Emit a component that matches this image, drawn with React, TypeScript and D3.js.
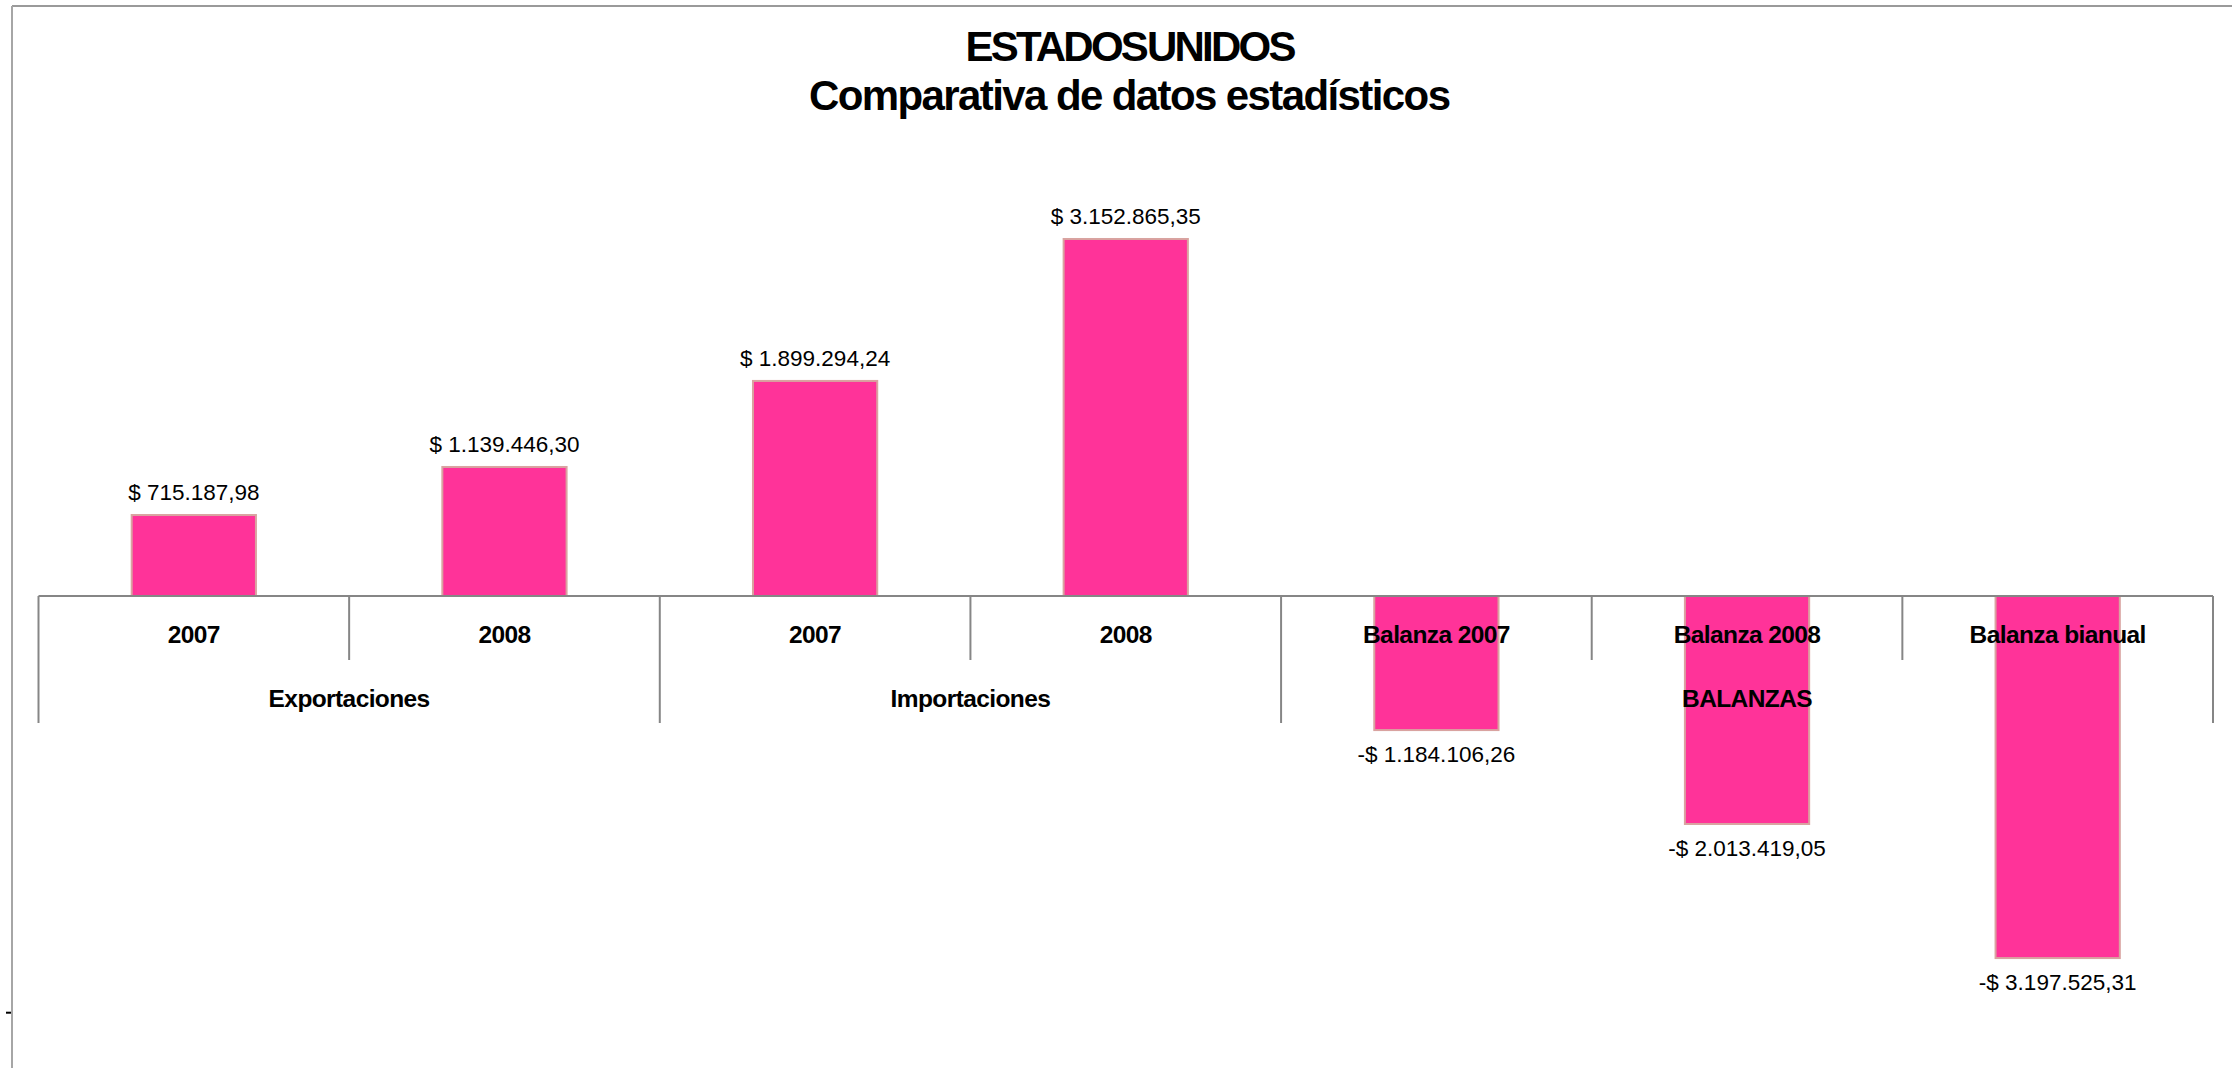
import React from "react";
import * as d3 from "d3";

const categories = ["2007", "2008", "2007", "2008", "Balanza 2007", "Balanza 2008", "Balanza bianual"];
const values = [715187.98, 1139446.3, 1899294.24, 3152865.35, -1184106.26, -2013419.05, -3197525.31];
const groups = ["Exportaciones", "Importaciones", "BALANZAS"];
const groupSizes = [2, 2, 3];
const titleLines = ["ESTADOS UNIDOS", "Comparativa de datos estadísticos"];
const yDomain = [-3680000, 3680000];
const valueTicks = [-3680000];

const W = 2237;
const H = 1068;
const FONT = "'Liberation Sans', Arial, sans-serif";

function fmt(v: number): string {
  const abs = Math.abs(v);
  const parts = abs.toFixed(2).split(".");
  const intPart = parts[0].replace(/\B(?=(\d{3})+(?!\d))/g, ".");
  return (v < 0 ? "-$ " : "$ ") + intPart + "," + parts[1];
}

export default function App() {
  const idx = categories.map((_, i) => i);
  const x = d3
    .scaleBand<number>()
    .domain(idx)
    .range([38.5, 2213])
    .paddingInner(0.6)
    .paddingOuter(0.3);
  const step = x.step();
  const left = 38.5;
  const y = d3.scaleLinear().domain(yDomain).range([1012.7, 179.3]);
  const y0 = y(0);

  const groupStarts: number[] = [];
  let acc = 0;
  groupSizes.forEach((s) => {
    groupStarts.push(acc);
    acc += s;
  });
  const groupBoundaries = new Set<number>([...groupStarts, acc]);
  const boundaries = d3.range(categories.length + 1);

  return (
    <svg
      width={W}
      height={H}
      style={{ position: "fixed", left: 0, top: 0, background: "#fff" }}
      fontFamily={FONT}
    >
      <rect x={0} y={0} width={W} height={H} fill="#fff" />
      {/* frame lines */}
      <line x1={12} x2={2232} y1={6} y2={6} stroke="#9a9a9a" strokeWidth={2} />
      <line x1={12} x2={12} y1={6} y2={H} stroke="#a6a6a6" strokeWidth={2} />
      {valueTicks.map((t, i) => (
        <line key={i} x1={6} x2={11} y1={y(t)} y2={y(t)} stroke="#000" strokeWidth={2} />
      ))}

      {/* title */}
      <text x={1131} y={61} textAnchor="middle" fontSize={42} fontWeight="bold" textLength={331} lengthAdjust="spacing" wordSpacing={-8}>
        {titleLines[0]}
      </text>
      <text x={1130} y={110} textAnchor="middle" fontSize={42} fontWeight="bold" textLength={642} lengthAdjust="spacing">
        {titleLines[1]}
      </text>

      {/* bars */}
      {values.map((v, i) => {
        const top = Math.min(y(v), y0);
        const h = Math.abs(y(v) - y0);
        return (
          <rect
            key={i}
            x={x(i)!}
            y={top}
            width={x.bandwidth()}
            height={h}
            fill="#FF3399"
            stroke="#D9A3A0"
            strokeWidth={2}
          />
        );
      })}

      {/* axis */}
      <line x1={left} x2={2213} y1={y0} y2={y0} stroke="#868686" strokeWidth={2} />
      {boundaries.map((k) => {
        const bx = left + step * k;
        const long = groupBoundaries.has(k);
        return (
          <line key={k} x1={bx} x2={bx} y1={y0} y2={long ? 723 : 660} stroke="#868686" strokeWidth={2} />
        );
      })}

      {/* category labels */}
      {categories.map((c, i) => (
        <text
          key={i}
          x={x(i)! + x.bandwidth() / 2}
          y={643}
          textAnchor="middle"
          fontSize={24.5}
          fontWeight="bold"
          letterSpacing={-0.6}
          fill="#000"
        >
          {c}
        </text>
      ))}
      {groups.map((g, gi) => {
        const cx = left + step * (groupStarts[gi] + groupSizes[gi] / 2);
        return (
          <text key={gi} x={cx} y={707} textAnchor="middle" fontSize={24.5} fontWeight="bold" letterSpacing={-0.6} fill="#000">
            {g}
          </text>
        );
      })}

      {/* data labels */}
      {values.map((v, i) => {
        const cx = x(i)! + x.bandwidth() / 2;
        const ly = v >= 0 ? y(v) - 15 : y(v) + 32;
        return (
          <text key={i} x={cx} y={ly} textAnchor="middle" fontSize={22.5} fill="#000">
            {fmt(v)}
          </text>
        );
      })}
    </svg>
  );
}
